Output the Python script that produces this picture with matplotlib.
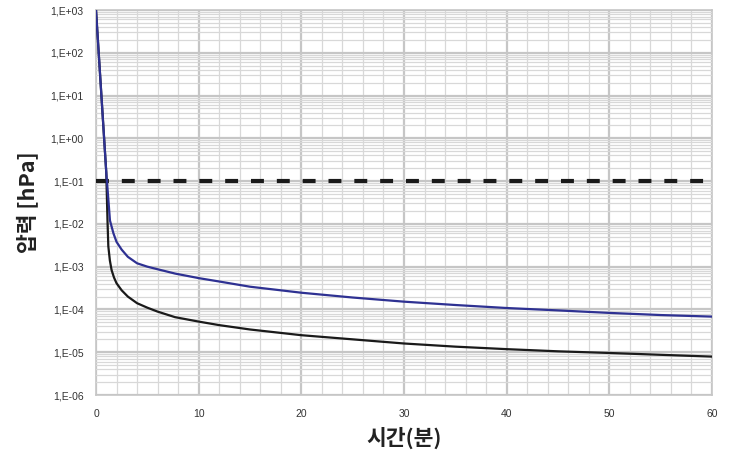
import matplotlib
matplotlib.use("Agg")
import matplotlib.pyplot as plt
from matplotlib.ticker import FixedLocator, LogLocator, NullFormatter
import numpy as np

# ---- data ----
time_blue = [0, 0.5, 1.0, 1.36, 1.7, 2.0, 2.5, 3.1, 4, 5, 6, 7.7, 10, 12, 15, 20, 25, 30, 35, 40, 45, 50, 55, 60]
press_blue = [1000, 12.6, 0.16, 1.2e-2, 6e-3, 3.8e-3, 2.5e-3, 1.7e-3, 1.2e-3, 1.0e-3, 8.7e-4, 6.9e-4,
              5.4e-4, 4.5e-4, 3.4e-4, 2.46e-4, 1.9e-4, 1.52e-4, 1.27e-4, 1.08e-4, 9.5e-5, 8.3e-5, 7.4e-5, 6.8e-5]

time_black = [0, 0.5, 1.0, 1.12, 1.2, 1.35, 1.52, 1.75, 2.0, 2.5, 3.1, 4, 5, 6, 7.7, 10, 12, 15, 20, 25, 30, 35, 40, 45, 50, 55, 60]
press_black = [1000, 12.6, 0.16, 1.2e-2, 3e-3, 1.4e-3, 8.3e-4, 5.6e-4, 4.1e-4, 2.8e-4, 2e-4, 1.4e-4, 1.1e-4,
               8.9e-5, 6.6e-5, 5.2e-5, 4.3e-5, 3.4e-5, 2.5e-5, 2.0e-5, 1.6e-5, 1.35e-5, 1.18e-5, 1.05e-5, 9.6e-6, 8.7e-6, 7.9e-6]

limit_time = [0, 60]
limit_press = [0.1, 0.1]

x_ticks = [0, 10, 20, 30, 40, 50, 60]
y_ticks = [1e-6, 1e-5, 1e-4, 1e-3, 1e-2, 1e-1, 1e0, 1e1, 1e2, 1e3]
y_tick_labels = ["1,E-06", "1,E-05", "1,E-04", "1,E-03", "1,E-02", "1,E-01", "1,E+00", "1,E+01", "1,E+02", "1,E+03"]

x_label = "시간(분)"
y_label = "압력 [hPa]"

# ---- figure ----
fig = plt.figure(figsize=(7.31, 4.57), dpi=100)
ax = fig.add_axes([96 / 731, 1 - 395 / 457, (712 - 96) / 731, (395 - 10) / 457])

ax.set_yscale("log")
ax.set_xlim(0, 60)
ax.set_ylim(1e-6, 1e3)

ax.set_axisbelow(False)
ax.xaxis.set_major_locator(FixedLocator(x_ticks))
ax.xaxis.set_minor_locator(FixedLocator([v for v in range(0, 61, 2) if v % 10]))
ax.yaxis.set_major_locator(FixedLocator(y_ticks))
ax.yaxis.set_minor_locator(LogLocator(base=10, subs=np.arange(2, 10), numticks=100))
ax.yaxis.set_minor_formatter(NullFormatter())
ax.set_xticklabels([str(v) for v in x_ticks], family="Liberation Sans")
ax.set_yticklabels(y_tick_labels, family="Liberation Sans")

ax.grid(which="major", color="#c6c6c6", linewidth=1.6, zorder=2.5)
ax.grid(which="minor", color="#d8d8d8", linewidth=0.9, zorder=2.5)

ax.tick_params(which="both", length=0)
ax.tick_params(axis="y", pad=9, labelsize=7.5, labelcolor="#333333")
ax.tick_params(axis="x", pad=10, labelsize=7.5, labelcolor="#333333")
for s in ax.spines.values():
    s.set_color("#c6c6c6")
    s.set_linewidth(1.2)

ax.plot(limit_time, limit_press, color="#1a1a1a", linewidth=3.0,
        dashes=(3.1, 3.1), zorder=3)
ax.plot(time_black, press_black, color="#1a1a1a", linewidth=1.6, zorder=3.2)
ax.plot(time_blue, press_blue, color="#2e3192", linewidth=1.6, zorder=3.3)

kfont = ["Noto Sans CJK KR", "DejaVu Sans"]
ax.set_xlabel(x_label, fontsize=15.5, fontweight="bold", family=kfont, color="#222222", labelpad=6)
ax.set_ylabel(y_label, fontsize=15.5, fontweight="bold", family=kfont, color="#222222", labelpad=9)

fig.savefig("out.png", dpi=100)
